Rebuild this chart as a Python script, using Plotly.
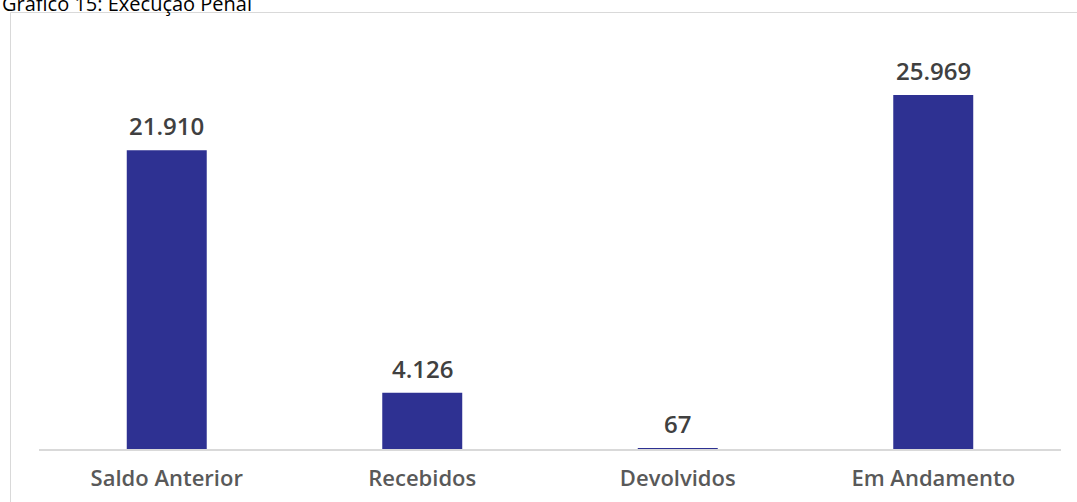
import plotly.graph_objects as go

categories = ["Saldo Anterior", "Recebidos", "Devolvidos", "Em Andamento"]
values = [21910, 4126, 67, 25969]
labels = ["21.910", "4.126", "67", "25.969"]
title = "Gráfico 15: Execução Penal"

W, H = 1077, 502
ml, mr, mt, mb = 39, 16, 40, 53
pw = W - ml - mr
ph = H - mt - mb

fig = go.Figure()
fig.add_trace(go.Bar(
    x=categories, y=values,
    marker=dict(color="#2E3192", line=dict(width=0)),
    hoverinfo="skip",
))

for c, v, t in zip(categories, values, labels):
    fig.add_annotation(x=c, y=v, text=t, showarrow=False, yanchor="bottom",
                       yshift=6, font=dict(family="Open Sans", size=24, weight=600, color="#404040"))

fig.add_annotation(xref="paper", yref="paper", x=-ml / pw, y=(ph + mt) / ph,
                   xanchor="left", yanchor="bottom", yshift=-19, text=title, showarrow=False,
                   font=dict(family="Open Sans", size=20, color="#000000"))

fig.add_shape(type="rect", xref="paper", yref="paper",
              x0=(10.5 - ml) / pw, x1=(W + 5 - ml) / pw,
              y0=-0.5, y1=(ph + mt - 12.5) / ph,
              line=dict(color="#d9d9d9", width=1), fillcolor="rgba(0,0,0,0)", layer="below")

fig.update_layout(
    width=W, height=H,
    margin=dict(l=ml, r=mr, t=mt, b=mb, autoexpand=False),
    paper_bgcolor="white", plot_bgcolor="white",
    bargap=0.687,
    showlegend=False,
    xaxis=dict(showline=True, linecolor="#d9d9d9", linewidth=2, ticks="", showgrid=False,
               automargin=False,
               tickfont=dict(family="Open Sans", size=22, weight=600, color="#595959"),
               ticklabelstandoff=9),
    yaxis=dict(range=[0, 30000], visible=False, showgrid=False, zeroline=False, automargin=False),
)

fig.write_html("out.html")
